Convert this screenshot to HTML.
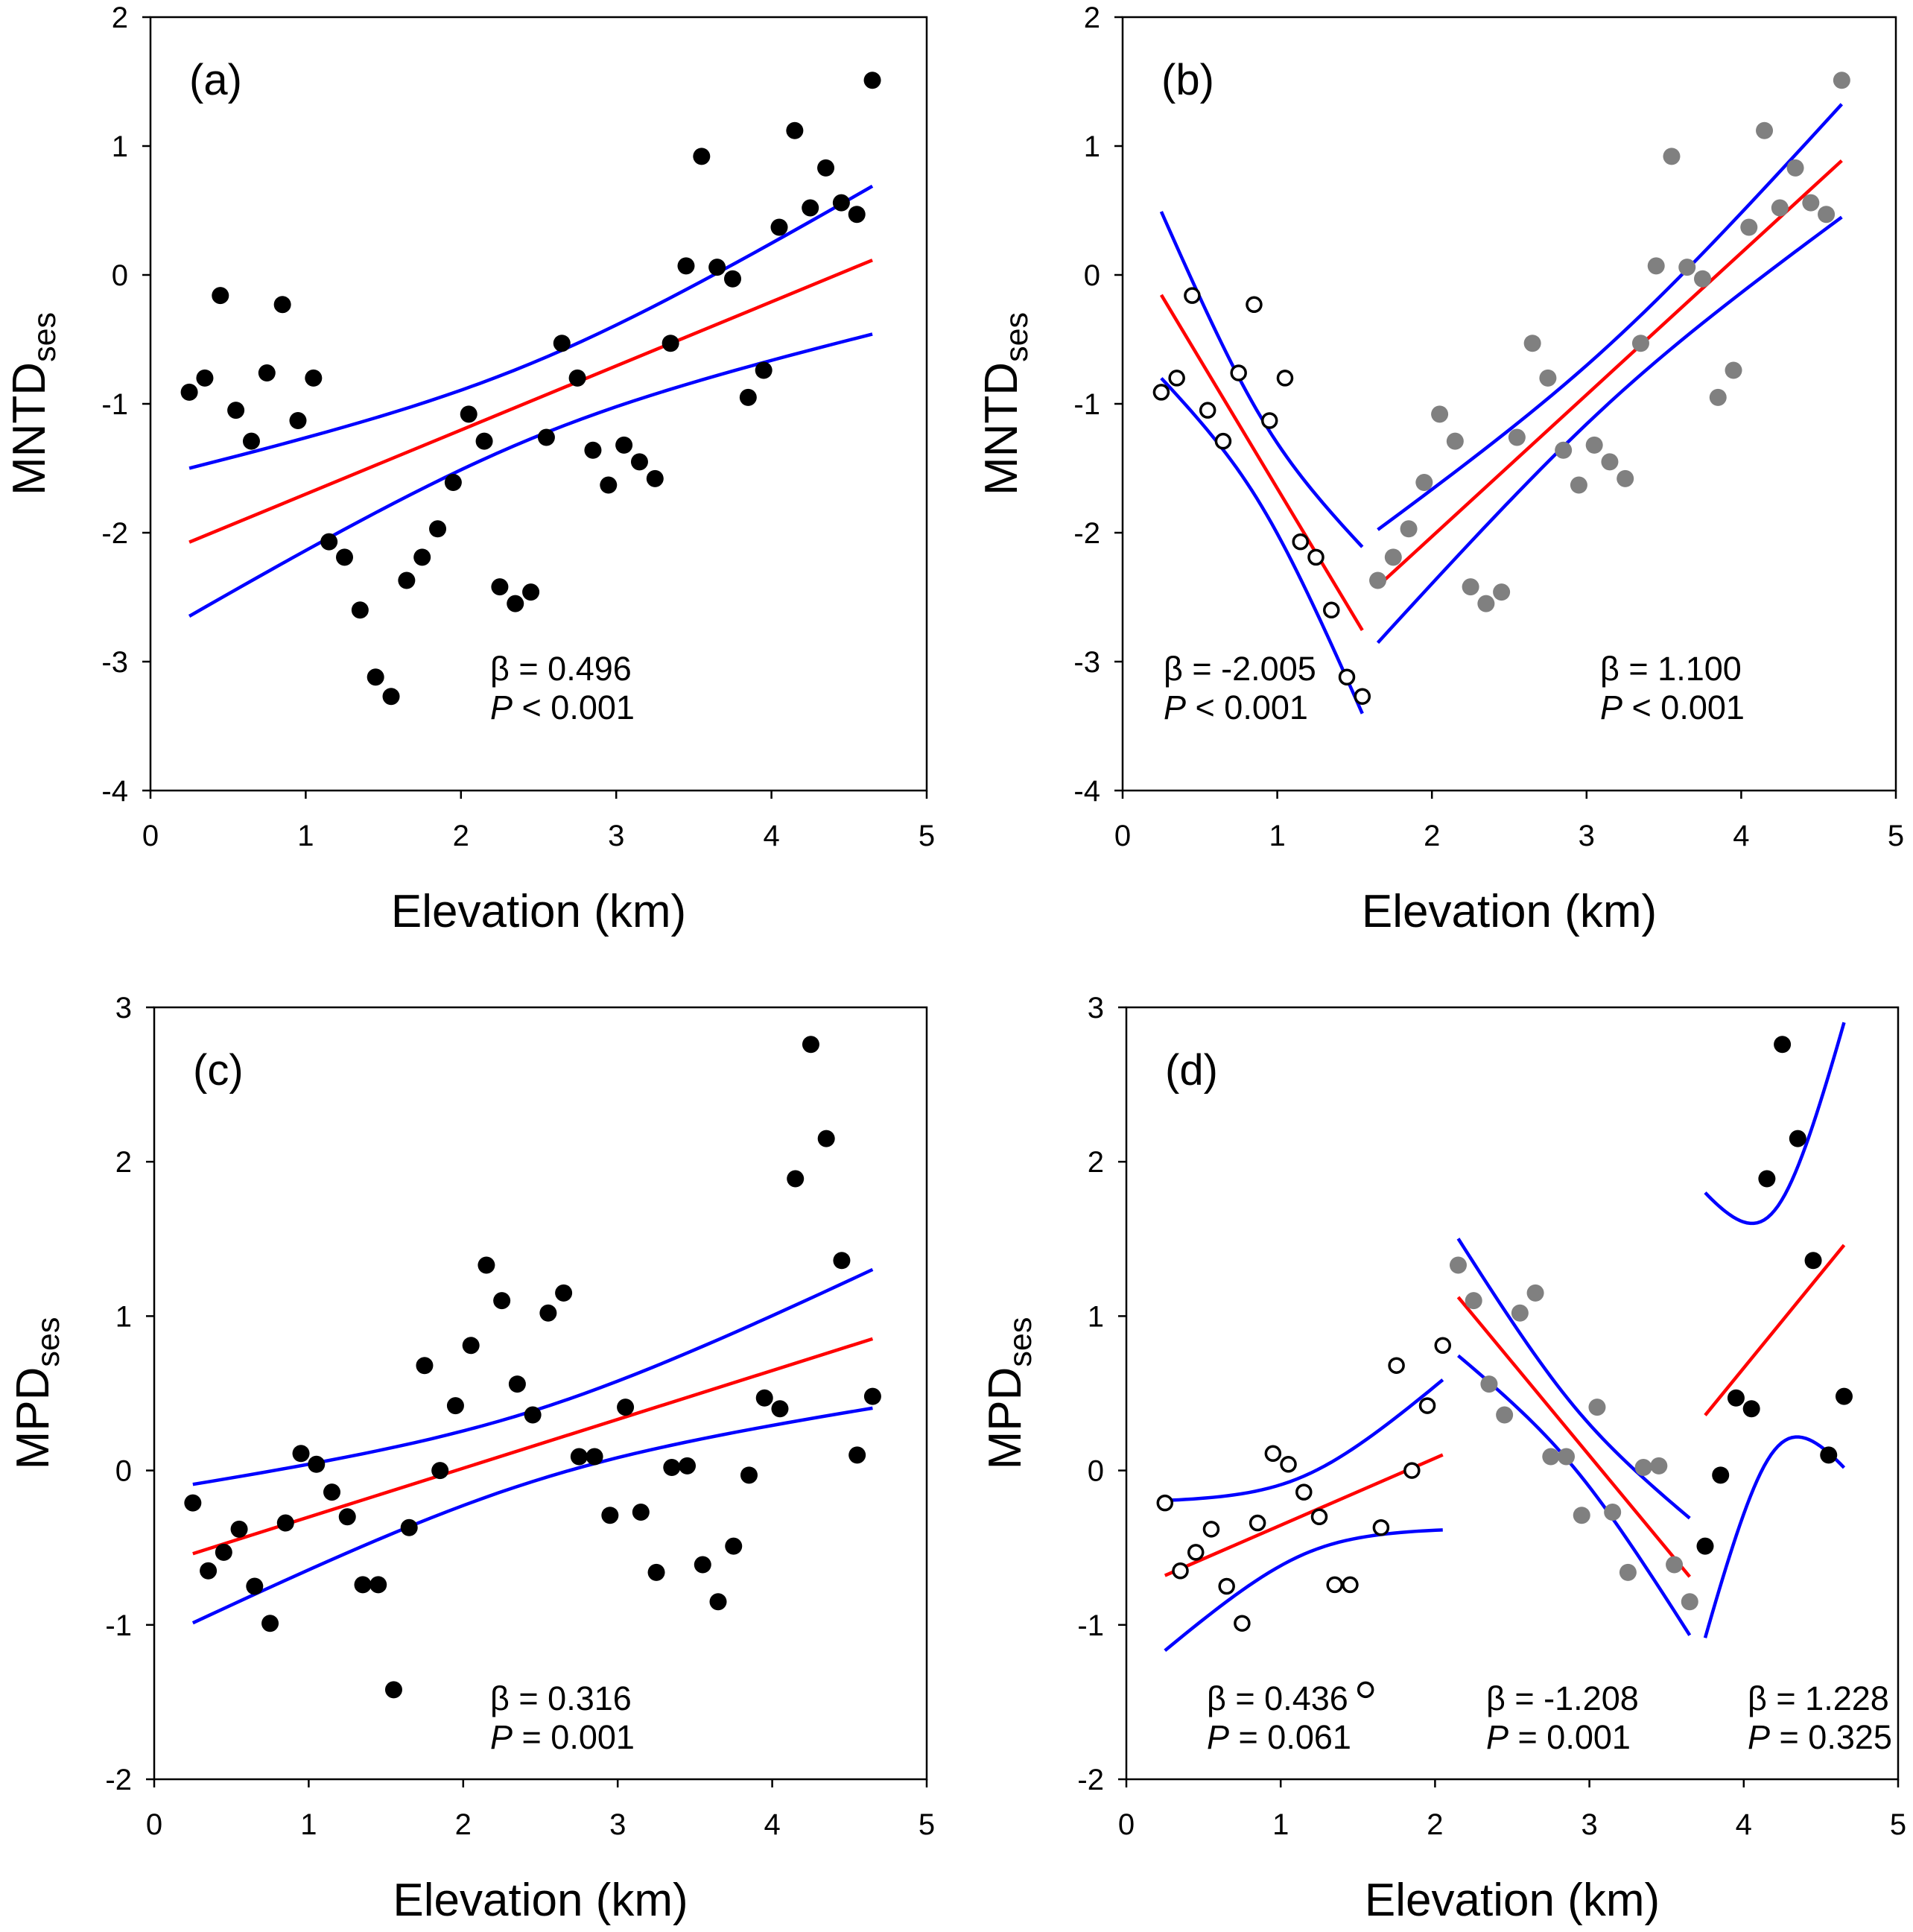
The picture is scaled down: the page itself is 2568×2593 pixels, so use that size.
<!DOCTYPE html>
<html><head><meta charset="utf-8"><style>
html,body{margin:0;padding:0;background:#fff;}
svg{display:block;font-family:"Liberation Sans",Arial,sans-serif;}
</style></head><body>
<svg id="fig" width="2568" height="2593" viewBox="0 0 2568 2593" xmlns="http://www.w3.org/2000/svg"></svg>
<script>
const elev = [0.25,0.35,0.45,0.55,0.65,0.75,0.85,0.95,1.05,1.15,1.25,1.35,1.45,1.55,1.65,1.75,1.85,1.95,2.05,2.15,2.25,2.35,2.45,2.55,2.65,2.75,2.85,2.95,3.05,3.15,3.25,3.35,3.45,3.55,3.65,3.75,3.85,3.95,4.05,4.15,4.25,4.35,4.45,4.55,4.65];
const mntd = [-0.91,-0.80,-0.16,-1.05,-1.29,-0.76,-0.23,-1.13,-0.80,-2.07,-2.19,-2.60,-3.12,-3.27,-2.37,-2.19,-1.97,-1.61,-1.08,-1.29,-2.42,-2.55,-2.46,-1.26,-0.53,-0.80,-1.36,-1.63,-1.32,-1.45,-1.58,-0.53,0.07,0.92,0.06,-0.03,-0.95,-0.74,0.37,1.12,0.52,0.83,0.56,0.47,1.51];
const mpd = [-0.21,-0.65,-0.53,-0.38,-0.75,-0.99,-0.34,0.11,0.04,-0.14,-0.30,-0.74,-0.74,-1.42,-0.37,0.68,0.00,0.42,0.81,1.33,1.10,0.56,0.36,1.02,1.15,0.09,0.09,-0.29,0.41,-0.27,-0.66,0.02,0.03,-0.61,-0.85,-0.49,-0.03,0.47,0.40,1.89,2.76,2.15,1.36,0.10,0.48];
const xTicks = [0,1,2,3,4,5];
const mntdTicks = [2,1,0,-1,-2,-3,-4];
const mpdTicks = [3,2,1,0,-1,-2];
const annA = [["0.496","<","0.001"]];
const annB = [["-2.005","<","0.001"],["1.100","<","0.001"]];
const annC = [["0.316","=","0.001"]];
const annD = [["0.436","=","0.061"],["-1.208","=","0.001"],["1.228","=","0.325"]];

const NS="http://www.w3.org/2000/svg";
const svg=document.getElementById('fig');
function mk(tag,attrs,parent){const e=document.createElementNS(NS,tag);for(const k in attrs)e.setAttribute(k,attrs[k]);(parent||svg).appendChild(e);return e;}

function ols(xs,ys){const n=xs.length;const mx=xs.reduce((a,b)=>a+b,0)/n,my=ys.reduce((a,b)=>a+b,0)/n;
 let sxx=0,sxy=0;for(let i=0;i<n;i++){sxx+=(xs[i]-mx)**2;sxy+=(xs[i]-mx)*(ys[i]-my);}
 const b=sxy/sxx,a=my-b*mx;let sse=0;for(let i=0;i<n;i++)sse+=(ys[i]-a-b*xs[i])**2;
 const s=Math.sqrt(sse/(n-2));const t=n<12?2.31:(n<20?2.13:2.02);
 return {a,b,f:x=>a+b*x,ci:x=>t*s*Math.sqrt(1/n+(x-mx)**2/sxx)};}

function panel(o){
 const g=mk('g',{});
 const X=v=>o.x0+(v-0)/(5-0)*(o.x1-o.x0);
 const Y=v=>o.y1-(v-o.ymin)/(o.ymax-o.ymin)*(o.y1-o.y0);
 const fr=mk('rect',{x:o.x0,y:o.y0,width:o.x1-o.x0,height:o.y1-o.y0,fill:'none',stroke:'#000','stroke-width':2.5},g);
 
 xTicks.forEach(t=>{const l=mk('line',{x1:X(t),x2:X(t),y1:o.y1,y2:o.y1+11,stroke:'#000','stroke-width':2.5},g);
  
  const tx=mk('text',{x:X(t),y:o.y1+74,'font-size':40,'text-anchor':'middle'},g);tx.textContent=t;
  });
 o.yticks.forEach(t=>{const l=mk('line',{x1:o.x0-11,x2:o.x0,y1:Y(t),y2:Y(t),stroke:'#000','stroke-width':2.5},g);
  
  const tx=mk('text',{x:o.x0-30,y:Y(t)+14,'font-size':40,'text-anchor':'end'},g);tx.textContent=t;
  });
 const xt=mk('text',{x:(o.x0+o.x1)/2,y:o.y1+183,'font-size':62,'text-anchor':'middle'},g);xt.textContent='Elevation (km)';
 
 const cy=(o.y0+o.y1)/2;
 const yt=mk('text',{x:0,y:0,'font-size':62,'text-anchor':'middle',transform:`translate(${o.x0-142},${cy}) rotate(-90)`},g);
 
 const t1=mk('tspan',{},yt);t1.textContent=o.ylab;
 const t2=mk('tspan',{'font-size':43,dy:14},yt);t2.textContent='ses';
 const pl=mk('text',{x:o.x0+52,y:o.y0+104,'font-size':58},g);pl.textContent=o.label;
 
 o.groups.forEach(gr=>{
  const xs=[],ys=[];for(let i=gr.from;i<=gr.to;i++){xs.push(elev[i]);ys.push(o.data[i]);}
  const m=ols(xs,ys);const xa=xs[0],xb=xs[xs.length-1];
  const up=[],lo=[];for(let k=0;k<=40;k++){const x=xa+(xb-xa)*k/40;up.push(X(x)+','+Y(m.f(x)+m.ci(x)));lo.push(X(x)+','+Y(m.f(x)-m.ci(x)));}
  const u=mk('polyline',{points:up.join(' '),fill:'none',stroke:'#0000ff','stroke-width':4.5},g);
  
  const lw=mk('polyline',{points:lo.join(' '),fill:'none',stroke:'#0000ff','stroke-width':4.5},g);
  
  const r=mk('line',{x1:X(xa),y1:Y(m.f(xa)),x2:X(xb),y2:Y(m.f(xb)),stroke:'#ff0000','stroke-width':4.5},g);
  
  for(let i=gr.from;i<=gr.to;i++){
   let c;
   if(gr.style==='open'){c=mk('circle',{cx:X(elev[i]),cy:Y(o.data[i]),r:9.5,fill:'#fff',stroke:'#000','stroke-width':3.5},g);}
   else{c=mk('circle',{cx:X(elev[i]),cy:Y(o.data[i]),r:11.5,fill:gr.style==='grey'?'#808080':'#000'},g);}
   
  }
 });
 o.ann.forEach((a,k)=>{
  const ax=o.annX[k];
  const t=mk('text',{x:ax,y:o.annY,'font-size':45},g);t.textContent='β = '+a[0];
  
  const p=mk('text',{x:ax,y:o.annY+52,'font-size':45},g);
  
  const pi=mk('tspan',{'font-style':'italic'},p);pi.textContent='P';
  const pr=mk('tspan',{},p);pr.textContent=' '+a[1]+' '+a[2];
 });
}
panel({name:'panel-a',x0:202,x1:1244,y0:23,y1:1061,ymin:-4,ymax:2,yticks:mntdTicks,ylab:'MNTD',label:'(a)',data:mntd,
 groups:[{from:0,to:44,style:'black'}],ann:annA,annX:[658],annY:913});
panel({name:'panel-b',x0:1507,x1:2545,y0:23,y1:1061,ymin:-4,ymax:2,yticks:mntdTicks,ylab:'MNTD',label:'(b)',data:mntd,
 groups:[{from:0,to:13,style:'open'},{from:14,to:44,style:'grey'}],ann:annB,annX:[1562,2148],annY:913});
panel({name:'panel-c',x0:207,x1:1244,y0:1352,y1:2388,ymin:-2,ymax:3,yticks:mpdTicks,ylab:'MPD',label:'(c)',data:mpd,
 groups:[{from:0,to:44,style:'black'}],ann:annC,annX:[658],annY:2295});
panel({name:'panel-d',x0:1512,x1:2548,y0:1352,y1:2388,ymin:-2,ymax:3,yticks:mpdTicks,ylab:'MPD',label:'(d)',data:mpd,
 groups:[{from:0,to:18,style:'open'},{from:19,to:34,style:'grey'},{from:35,to:44,style:'black'}],ann:annD,annX:[1620,1995,2346],annY:2295});
</script>
</body></html>
